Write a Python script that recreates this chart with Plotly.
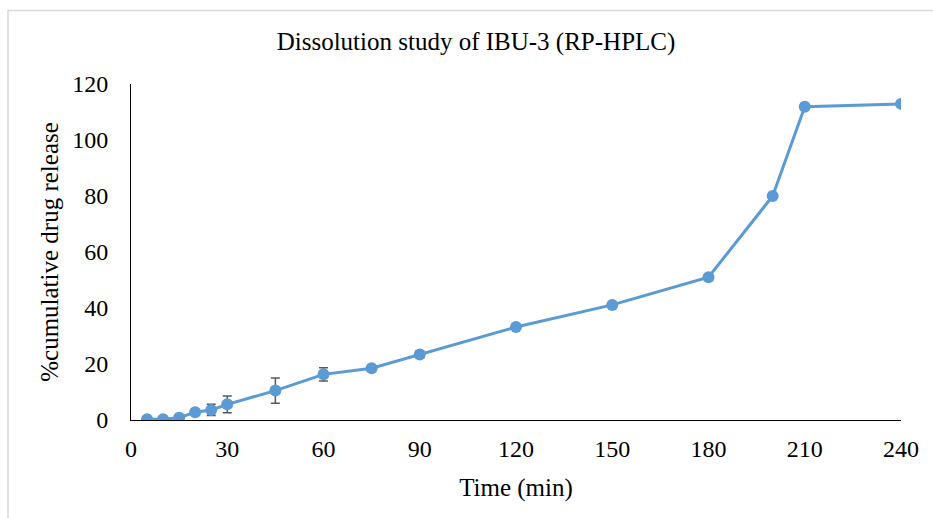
import plotly.graph_objects as go

time_min = [5, 10, 15, 20, 25, 30, 45, 60, 75, 90, 120, 150, 180, 200, 210, 240]
release = [0.3, 0.3, 0.8, 2.8, 3.6, 5.6, 10.5, 16.3, 18.5, 23.4, 33.2, 41.1, 51.0, 80.0, 111.9, 112.9]
release_sd = [0, 0, 0, 0, 2.0, 3.0, 4.5, 2.4, 0.8, 1.2, 0, 0, 0, 0, 0, 0]
x_ticks = [0, 30, 60, 90, 120, 150, 180, 210, 240]
y_ticks = [0, 20, 40, 60, 80, 100, 120]

FONT = "'Liberation Serif', 'Times New Roman', Times, serif"
BLUE = "#5B9BD5"

fig = go.Figure()
fig.add_trace(go.Scatter(
    x=time_min, y=release, mode="lines+markers",
    line=dict(color=BLUE, width=3),
    marker=dict(color=BLUE, size=12),
    error_y=dict(type="data", array=release_sd, visible=True,
                 color="#595959", thickness=1.5, width=4.5),
    showlegend=False,
))

fig.update_layout(
    width=933, height=518,
    margin=dict(l=131, r=32, t=84, b=98),
    paper_bgcolor="white", plot_bgcolor="white",
    font=dict(family=FONT, color="black", size=24),
    title=dict(text="Dissolution study of IBU-3 (RP-HPLC)",
               font=dict(family=FONT, size=25, color="black"),
               x=476/933, xanchor="center", xref="container",
               y=1-41/518, yanchor="middle", yref="container"),
    xaxis=dict(range=[0, 240], tickmode="array", tickvals=x_ticks,
               showgrid=False, zeroline=False, showline=True,
               linecolor="black", linewidth=1, ticks="",
               ticklabelstandoff=7,
               tickfont=dict(family=FONT, size=24, color="black"),
               title=dict(text="Time (min)", standoff=17,
                          font=dict(family=FONT, size=25, color="black"))),
    yaxis=dict(range=[0, 120], tickmode="array", tickvals=y_ticks,
               showgrid=False, zeroline=False, showline=True,
               linecolor="black", linewidth=1, ticks="",
               ticklabelstandoff=17,
               tickfont=dict(family=FONT, size=24, color="black"),
               title=dict(text="%cumulative drug release", standoff=6,
                          font=dict(family=FONT, size=25, color="black"))),
    shapes=[dict(type="rect", xref="paper", yref="paper",
                 x0=(8-131)/770, x1=(945-131)/770,
                 y0=(420-530)/336, y1=(420-10.5)/336,
                 line=dict(color="#D9D9D9", width=1.5), layer="below")],
)

fig.write_html("out.html")
